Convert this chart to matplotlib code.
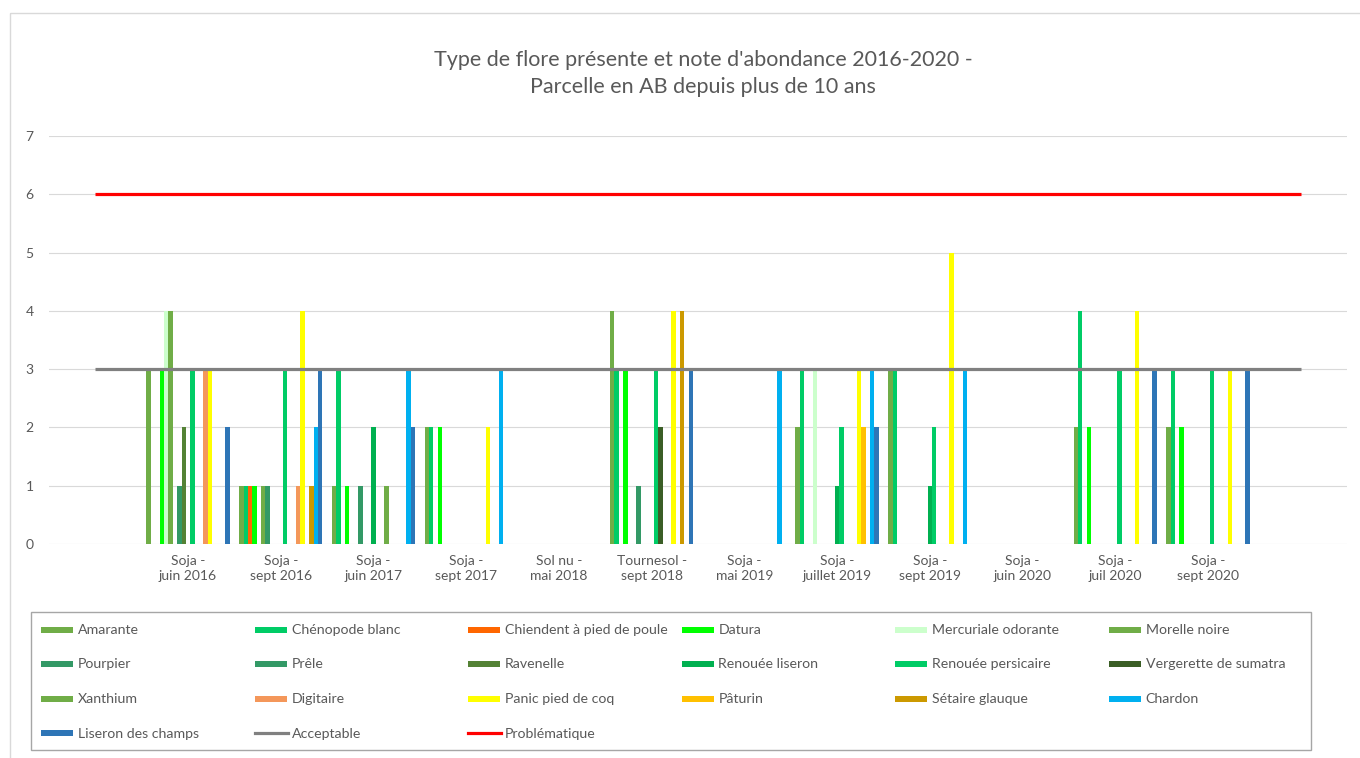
import numpy as np
import matplotlib.pyplot as plt
from matplotlib.patches import Rectangle

plt.rcParams["font.family"] = ["Lato", "DejaVu Sans"]

# categories of the x axis (first and last are empty slots used by the lines)
categories = ["", "Soja -\njuin 2016", "Soja -\nsept 2016", "Soja -\njuin 2017",
              "Soja -\nsept 2017", "Sol nu -\nmai 2018", "Tournesol -\nsept 2018",
              "Soja -\nmai 2019", "Soja -\njuillet 2019", "Soja -\nsept 2019",
              "Soja -\njuin 2020", "Soja -\njuil 2020", "Soja -\nsept 2020", ""]

# abundance notes, one value per real category (12)
amarante = [3, 1, 1, 2, 0, 4, 0, 2, 3, 0, 2, 2]
chenopode = [0, 1, 3, 2, 0, 3, 0, 3, 3, 0, 4, 3]
chiendent = [0, 1, 0, 0, 0, 0, 0, 0, 0, 0, 0, 0]
datura = [3, 1, 1, 2, 0, 3, 0, 0, 0, 0, 2, 2]
mercuriale = [4, 0, 0, 0, 0, 0, 0, 3, 0, 0, 0, 0]
morelle = [4, 1, 0, 0, 0, 0, 0, 0, 0, 0, 0, 0]
pourpier = [0, 1, 1, 0, 0, 1, 0, 0, 0, 0, 0, 0]
prele = [1, 0, 0, 0, 0, 0, 0, 0, 0, 0, 0, 0]
ravenelle = [2, 0, 0, 0, 0, 0, 0, 0, 0, 0, 0, 0]
renouee_liseron = [0, 0, 2, 0, 0, 0, 0, 1, 1, 0, 0, 0]
renouee_persicaire = [3, 3, 0, 0, 0, 3, 0, 2, 2, 0, 3, 3]
vergerette = [0, 0, 0, 0, 0, 2, 0, 0, 0, 0, 0, 0]
xanthium = [0, 0, 1, 0, 0, 0, 0, 0, 0, 0, 0, 0]
digitaire = [3, 1, 0, 0, 0, 0, 0, 0, 0, 0, 0, 0]
panic = [3, 4, 0, 2, 0, 4, 0, 3, 5, 0, 4, 3]
paturin = [0, 0, 0, 0, 0, 0, 0, 2, 0, 0, 0, 0]
setaire = [0, 1, 0, 0, 0, 4, 0, 0, 0, 0, 0, 0]
chardon = [0, 2, 3, 3, 0, 0, 3, 3, 3, 0, 0, 0]
liseron_champs = [2, 3, 2, 0, 0, 3, 0, 2, 0, 0, 3, 3]

# threshold lines, one value per axis slot (14)
acceptable = [3, 3, 3, 3, 3, 3, 3, 3, 3, 3, 3, 3, 3, 3]
problematique = [6, 6, 6, 6, 6, 6, 6, 6, 6, 6, 6, 6, 6, 6]

series = [
    ("Amarante", amarante, "#70AD47"),
    ("Chénopode blanc", chenopode, "#00CC66"),
    ("Chiendent à pied de poule", chiendent, "#FF6600"),
    ("Datura", datura, "#00FF00"),
    ("Mercuriale odorante", mercuriale, "#CCFFCC"),
    ("Morelle noire", morelle, "#70AD47"),
    ("Pourpier", pourpier, "#339966"),
    ("Prêle", prele, "#339966"),
    ("Ravenelle", ravenelle, "#548235"),
    ("Renouée liseron", renouee_liseron, "#00B050"),
    ("Renouée persicaire", renouee_persicaire, "#00CC66"),
    ("Vergerette de sumatra", vergerette, "#3B5E26"),
    ("Xanthium", xanthium, "#70AD47"),
    ("Digitaire", digitaire, "#F4975A"),
    ("Panic pied de coq", panic, "#FFFF00"),
    ("Pâturin", paturin, "#FFC000"),
    ("Sétaire glauque", setaire, "#CC9900"),
    ("Chardon", chardon, "#00B0F0"),
    ("Liseron des champs", liseron_champs, "#2E75B6"),
]
lines = [
    ("Acceptable", acceptable, "#808080"),
    ("Problématique", problematique, "#FF0000"),
]

W, H = 1360, 758
fig = plt.figure(figsize=(W / 100, H / 100), dpi=100)
fig.patch.set_facecolor("white")

# main plot area, placed in pixels
left, right, top, bottom = 49, 1347, 136, 544
ax = fig.add_axes([left / W, 1 - bottom / H, (right - left) / W, (bottom - top) / H])

x_all = np.arange(len(categories))
x_bars = x_all[1:-1]
n = len(series)
bw = 0.0472
for i, (name, vals, col) in enumerate(series):
    ax.bar(x_bars + (i - (n - 1) / 2) * bw, vals, width=bw, color=col,
           linewidth=0, zorder=2)

for name, vals, col in lines:
    ax.plot(x_all, vals, color=col, linewidth=2.3, solid_capstyle="butt", zorder=3)

ax.set_xlim(-0.5, len(categories) - 0.5)
ax.set_ylim(0, 7)
ax.set_yticks(range(8))
ax.set_xticks(x_all)
ax.set_xticklabels(categories, fontsize=10, color="#595959", linespacing=1.25)
ax.tick_params(axis="y", length=0, pad=11, labelsize=10, labelcolor="#595959")
ax.tick_params(axis="x", length=0, pad=8)
ax.grid(axis="y", color="#D9D9D9", linewidth=0.8, zorder=0)
ax.set_axisbelow(True)
for s in ax.spines.values():
    s.set_visible(False)

# overlay in pixel coordinates for title, legend and border
ov = fig.add_axes([0, 0, 1, 1], zorder=5)
ov.set_xlim(0, W)
ov.set_ylim(H, 0)
ov.axis("off")
ov.patch.set_alpha(0)

ov.add_patch(Rectangle((10, 13), W, H, fill=False, edgecolor="#D9D9D9", linewidth=1))
ov.text(703, 60, "Type de flore présente et note d'abondance 2016-2020 -",
        ha="center", va="center", fontsize=15.5, color="#595959")
ov.text(703, 87, "Parcelle en AB depuis plus de 10 ans",
        ha="center", va="center", fontsize=15.5, color="#595959")

# legend, laid out row by row like the original
ov.add_patch(Rectangle((31, 612), 1280, 138, fill=False, edgecolor="#A6A6A6", linewidth=1))
entries = [(name, col, "bar") for name, _, col in series] + \
          [(name, col, "line") for name, _, col in lines]
col_w = 213.5
row_y = [630, 664, 698.5, 733]
for k, (name, col, kind) in enumerate(entries):
    r, c = divmod(k, 6)
    x0 = 41 + c * col_w
    y0 = row_y[r]
    if kind == "bar":
        ov.add_patch(Rectangle((x0, y0 - 3), 32, 6, color=col, linewidth=0))
    else:
        ov.plot([x0, x0 + 33], [y0, y0], color=col, linewidth=2.3)
    ov.text(x0 + 37, y0 + 0.5, name, ha="left", va="center", fontsize=10.2, color="#595959")

fig.savefig("out.png", dpi=100)
